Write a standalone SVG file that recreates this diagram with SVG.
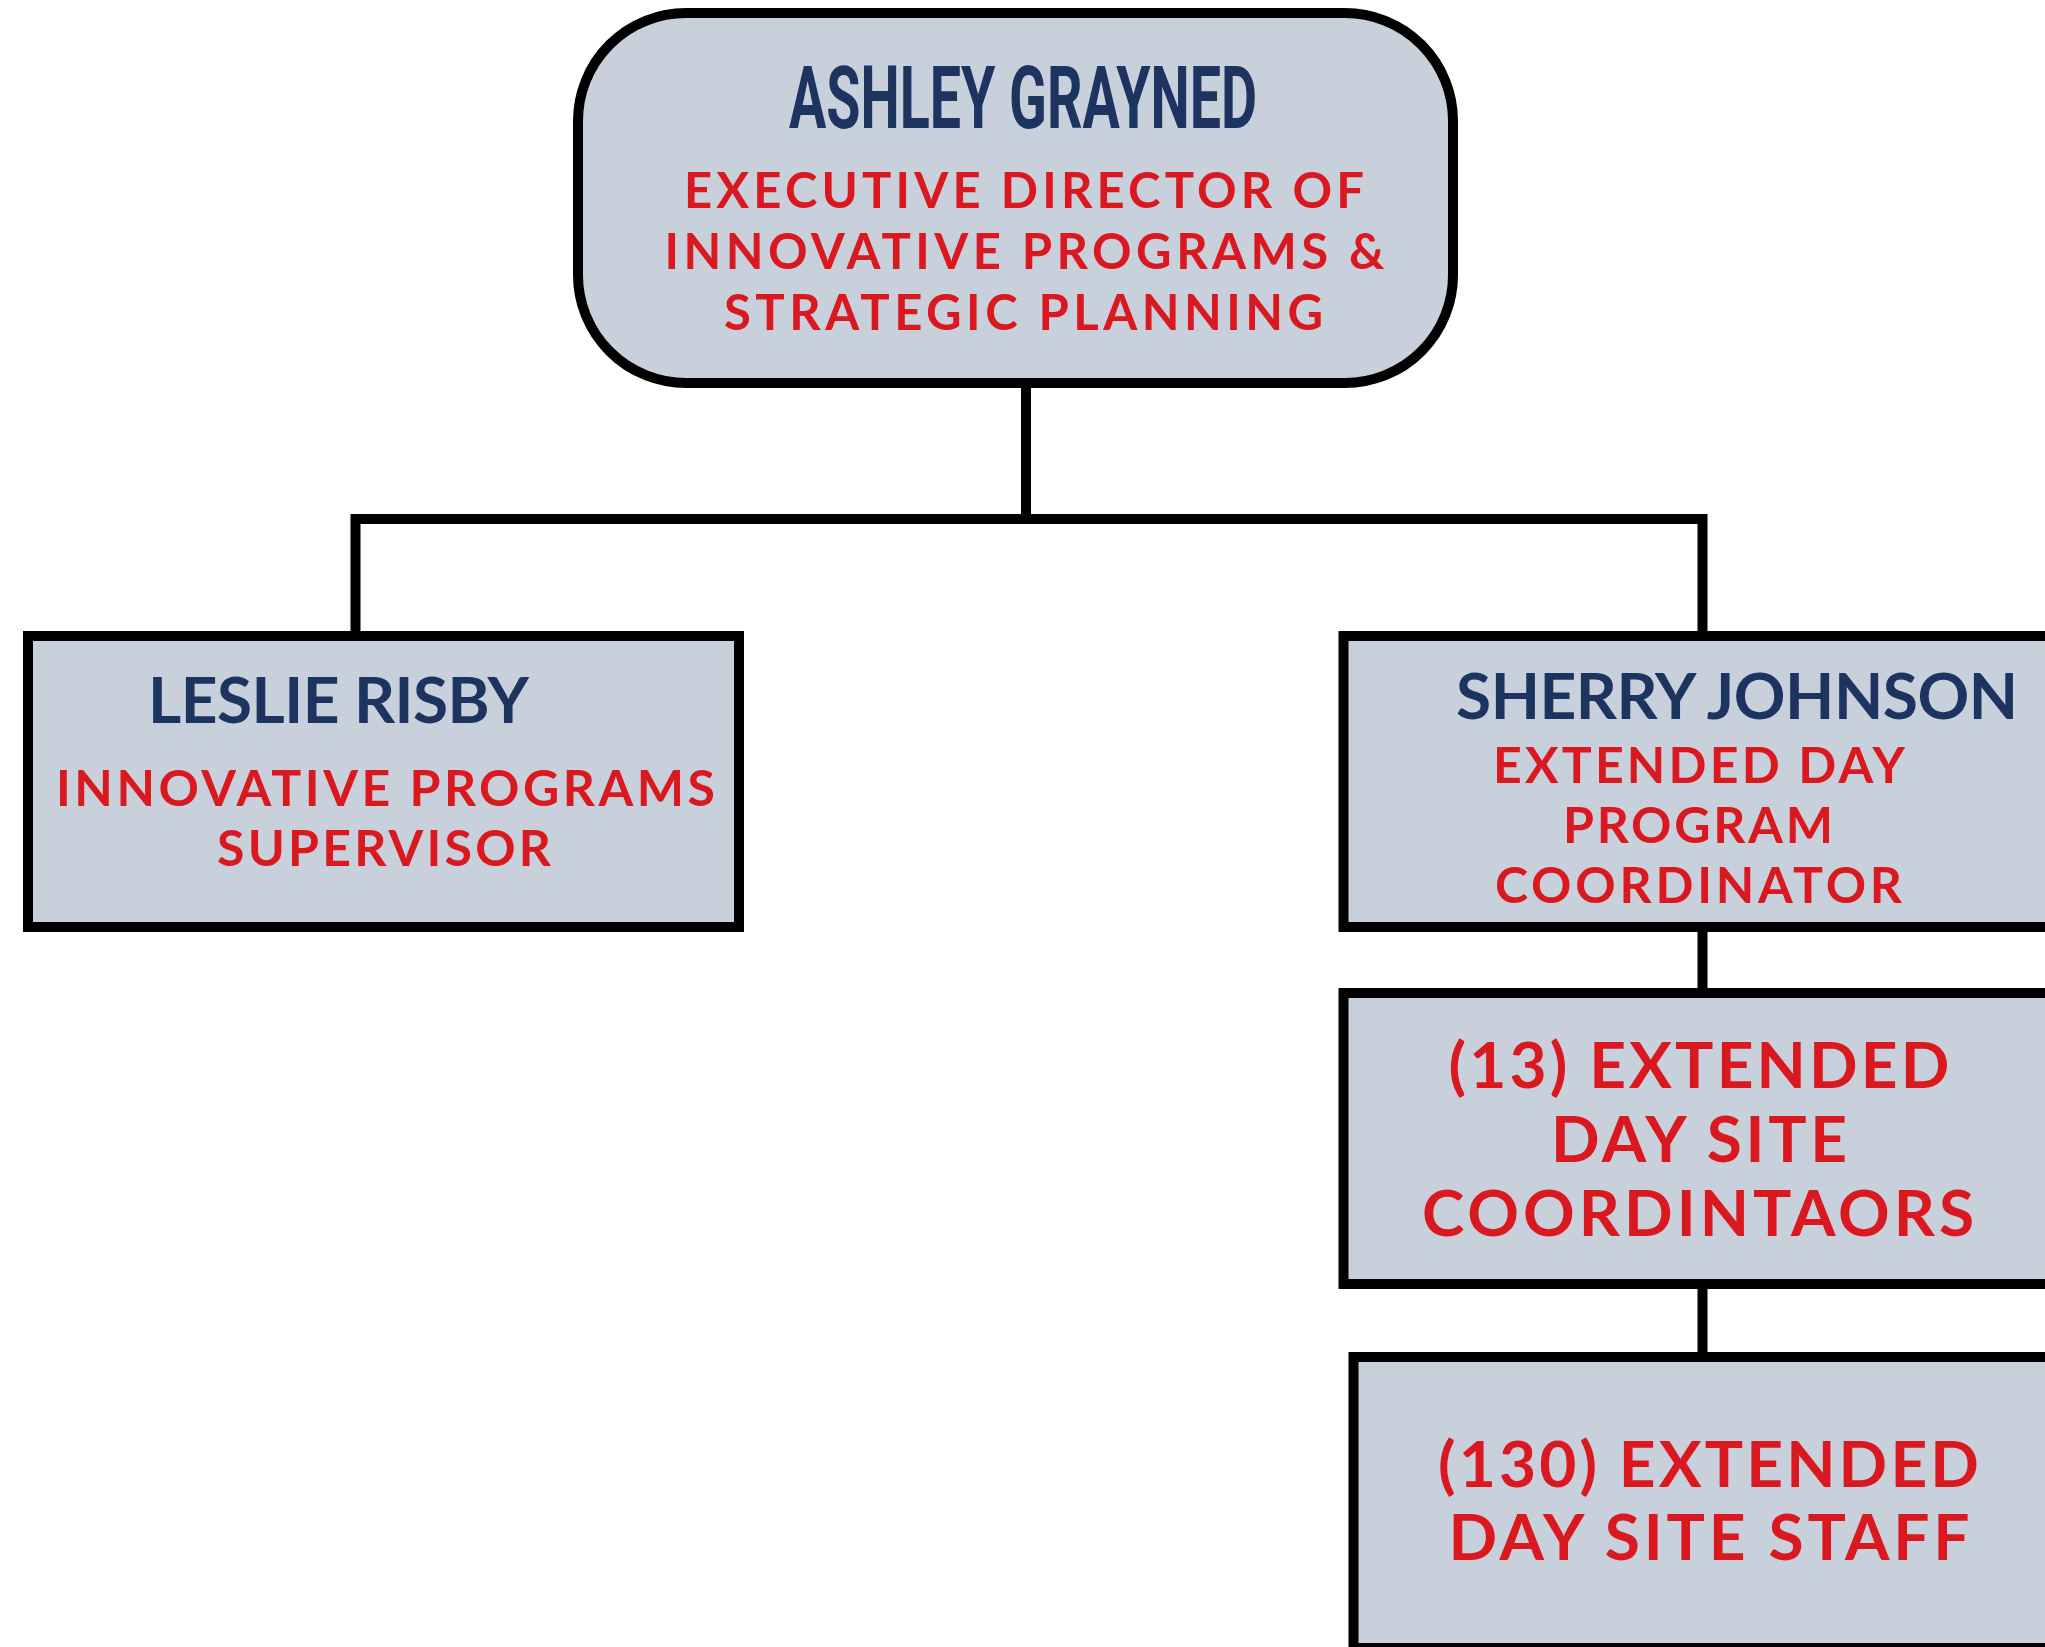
<svg xmlns="http://www.w3.org/2000/svg" width="2045" height="1647" viewBox="0 0 2045 1647">
<style>
.box{fill:#C8D1DB;stroke:#000;stroke-width:10}
.con{stroke:#000;stroke-width:10;fill:none}
.name{font-family:Lato,"Noto Sans",sans-serif;font-weight:700;fill:#1D3461;text-anchor:middle}
.role{font-family:Lato,"Noto Sans",sans-serif;font-weight:700;fill:#D9181F;text-anchor:middle}
.big{font-size:64px}
.mid{font-size:50px}
.cond{font-family:Roboto,"Liberation Sans",sans-serif;font-weight:700;fill:#1D3461;text-anchor:middle;font-size:88px}
</style>
<rect width="2045" height="1647" fill="#fff"/>
<g id="connectors">
<path class="con" d="M1026 383V519M355.5 519H1702.5M355.5 514V636M1702.5 514V636M1702.5 927V993M1702.5 1284V1357"/>
</g>
<g id="ashley">
<rect class="box" x="578" y="13" width="875" height="370" rx="108" ry="108"/>
<text class="cond" x="1023" y="128" textLength="468" lengthAdjust="spacingAndGlyphs">ASHLEY GRAYNED</text>
<text class="role" font-size="49" x="1024" y="208" textLength="680" lengthAdjust="spacing">EXECUTIVE DIRECTOR OF</text>
<text class="role" font-size="49" x="1024.5" y="269" textLength="720" lengthAdjust="spacing">INNOVATIVE PROGRAMS &amp;</text>
<text class="role" font-size="49" x="1023.5" y="330" textLength="599" lengthAdjust="spacing">STRATEGIC PLANNING</text>
</g>
<g id="leslie">
<rect class="box" x="28" y="636" width="711" height="291"/>
<text class="name big" x="338.5" y="723" textLength="381" lengthAdjust="spacing">LESLIE RISBY</text>
<text class="role mid" x="385.5" y="806" textLength="659" lengthAdjust="spacing">INNOVATIVE PROGRAMS</text>
<text class="role mid" x="384" y="866" textLength="334" lengthAdjust="spacing">SUPERVISOR</text>
</g>
<g id="sherry">
<rect class="box" x="1343.5" y="636" width="720" height="291"/>
<text class="name big" x="1737" y="719" textLength="562" lengthAdjust="spacing">SHERRY JOHNSON</text>
<text class="role mid" x="1699" y="783" textLength="412" lengthAdjust="spacing">EXTENDED DAY</text>
<text class="role mid" x="1698" y="843" textLength="270" lengthAdjust="spacing">PROGRAM</text>
<text class="role mid" x="1698.5" y="903" textLength="407" lengthAdjust="spacing">COORDINATOR</text>
</g>
<g id="coordinators">
<rect class="box" x="1343.5" y="993" width="720" height="291"/>
<text class="role big" x="1699" y="1088" textLength="501" lengthAdjust="spacing">(13) EXTENDED</text>
<text class="role big" x="1699" y="1162" textLength="296" lengthAdjust="spacing">DAY SITE</text>
<text class="role big" x="1698" y="1236" textLength="552" lengthAdjust="spacing">COORDINTAORS</text>
</g>
<g id="staff">
<rect class="box" x="1353.5" y="1357" width="710" height="291"/>
<text class="role big" x="1708.5" y="1487" textLength="541" lengthAdjust="spacing">(130) EXTENDED</text>
<text class="role big" x="1709" y="1560" textLength="521" lengthAdjust="spacing">DAY SITE STAFF</text>
</g>
</svg>
